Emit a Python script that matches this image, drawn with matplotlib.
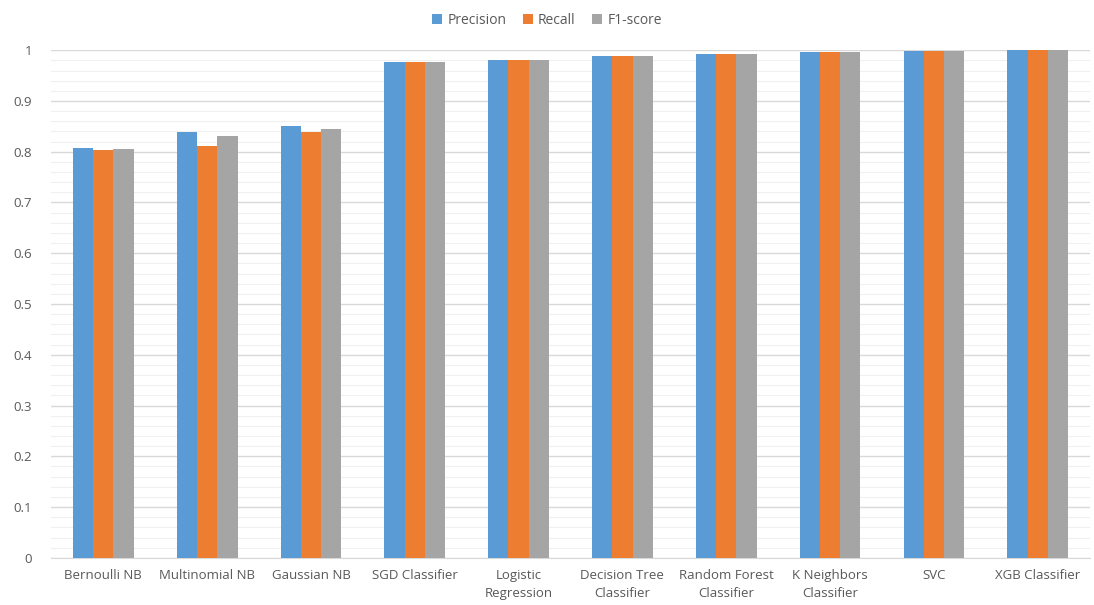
import numpy as np
import matplotlib.pyplot as plt
from matplotlib.ticker import MultipleLocator

# Model metrics
models = ["Bernoulli NB", "Multinomial NB", "Gaussian NB", "SGD Classifier",
          "Logistic\nRegression", "Decision Tree\nClassifier", "Random Forest\nClassifier",
          "K Neighbors\nClassifier", "SVC", "XGB Classifier"]
precision = [0.807, 0.838, 0.850, 0.976, 0.981, 0.988, 0.992, 0.997, 0.998, 1.000]
recall    = [0.804, 0.812, 0.839, 0.976, 0.981, 0.988, 0.992, 0.997, 0.998, 1.000]
f1_score  = [0.806, 0.831, 0.844, 0.976, 0.981, 0.988, 0.992, 0.997, 0.998, 1.000]
yticks = [0, 0.1, 0.2, 0.3, 0.4, 0.5, 0.6, 0.7, 0.8, 0.9, 1]
ytick_labels = ['0', '0.1', '0.2', '0.3', '0.4', '0.5', '0.6', '0.7', '0.8', '0.9', '1']

plt.rcParams['font.family'] = ['Open Sans', 'DejaVu Sans']

fig = plt.figure(figsize=(10.94, 6.05), dpi=100)
ax = fig.add_axes([0.047, 0.078, 0.949, 0.839])

x = np.arange(len(models))
w = 0.195
ax.bar(x - w, precision, w, color='#5B9BD5', label='Precision', zorder=3, clip_on=False)
ax.bar(x, recall, w, color='#ED7D31', label='Recall', zorder=3, clip_on=False)
ax.bar(x + w, f1_score, w, color='#A5A5A5', label='F1-score', zorder=3, clip_on=False)

ax.set_xlim(-0.5, len(models) - 0.5)
ax.set_ylim(0, 1)
ax.set_yticks(yticks)
ax.set_yticklabels(ytick_labels)
ax.yaxis.set_minor_locator(MultipleLocator(0.02))
ax.grid(axis='y', which='major', color='#D9D9D9', linewidth=1, zorder=0)
ax.grid(axis='y', which='minor', color='#F0F0F0', linewidth=0.8, zorder=0)

ax.set_xticks(x)
ax.set_xticklabels(models, fontsize=9.5, color='#595959', linespacing=1.5)
ax.tick_params(axis='y', labelsize=9.5, labelcolor='#595959', length=0, which='both', pad=14)
ax.tick_params(axis='x', length=0, pad=8)
for s in ['top', 'right', 'left']:
    ax.spines[s].set_visible(False)
ax.spines['bottom'].set_color('#D9D9D9')

fig.legend(loc='upper center', bbox_to_anchor=(0.5, 1.0), ncol=3, frameon=False,
           fontsize=10, labelcolor='#595959', handlelength=0.7, handleheight=0.7,
           handletextpad=0.4, columnspacing=1.2)

fig.savefig('out.png', dpi=100)
